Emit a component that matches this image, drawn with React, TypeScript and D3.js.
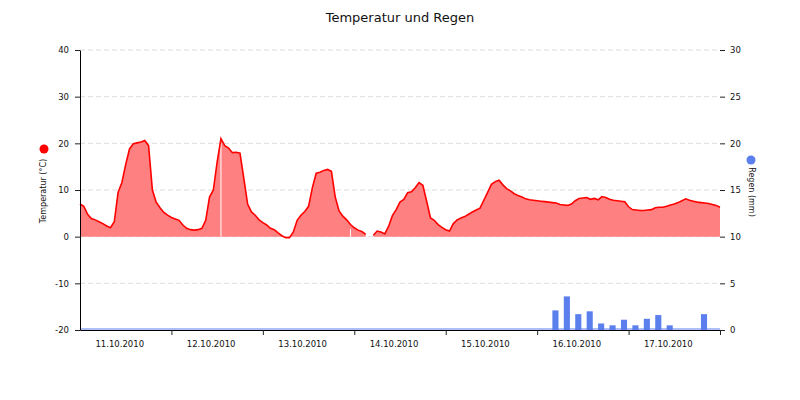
import * as d3 from "d3";
import { useEffect, useMemo, useRef } from "react";

const WIDTH = 800;
const HEIGHT = 400;
const MARGIN = { top: 50, right: 80, bottom: 70, left: 80 };
const FONT = "DejaVu Sans, sans-serif";

const title = "Temperatur und Regen";
const tempLabel = "Temperatur (°C)";
const rainLabel = "Regen (mm)";

// Zeitraum der x-Achse
const startDay = new Date(2010, 9, 11);
const endDay = new Date(2010, 9, 18);

// Temperatur, stündlich ab 11.10.2010 00:00 (null = fehlender Messwert)
const tempStart = new Date(2010, 9, 11, 0);
const temps: (number | null)[] = [
  // 11.10.
  7.0, 6.5, 4.8, 3.9, 3.6, 3.2, 2.8, 2.3, 1.9, 3.2, 9.5, 11.6,
  15.5, 18.8, 19.9, 20.1, 20.3, 20.6, 19.5, 10.0, 7.4, 6.2, 5.2, 4.6,
  // 12.10.
  4.1, 3.8, 3.5, 2.5, 1.8, 1.5, 1.4, 1.5, 1.8, 3.5, 8.5, 10.0,
  16.0, 21.0, 19.5, 19.0, 18.0, 18.1, 17.9, 12.5, 7.0, 5.3, 4.6, 3.6,
  // 13.10.
  3.0, 2.5, 1.8, 1.5, 0.8, 0.2, -0.2, -0.2, 1.0, 3.5, 4.6, 5.4,
  6.5, 10.5, 13.6, 13.8, 14.2, 14.4, 14.0, 8.5, 5.5, 4.4, 3.6, 2.6,
  // 14.10.
  1.9, 1.4, 1.1, 0.5, null, 0.3, 1.2, 1.0, 0.6, 2.2, 4.5, 5.8,
  7.4, 8.0, 9.4, 9.6, 10.5, 11.6, 11.0, 7.6, 4.0, 3.5, 2.6, 2.0,
  // 15.10.
  1.5, 1.2, 2.8, 3.6, 4.0, 4.3, 4.8, 5.3, 5.7, 6.1, 7.8, 9.5,
  11.2, 11.8, 12.1, 11.1, 10.3, 9.8, 9.2, 8.8, 8.5, 8.1, 7.9, 7.8,
  // 16.10.
  7.7, 7.6, 7.5, 7.4, 7.3, 7.2, 6.9, 6.8, 6.7, 7.0, 7.7, 8.2,
  8.3, 8.4, 8.0, 8.2, 7.9, 8.6, 8.4, 8.0, 7.8, 7.7, 7.6, 7.5,
  // 17.10.
  6.4, 5.8, 5.7, 5.6, 5.6, 5.7, 5.8, 6.2, 6.3, 6.3, 6.5, 6.8,
  7.0, 7.3, 7.7, 8.1, 7.8, 7.6, 7.4, 7.3, 7.2, 7.1, 6.9, 6.7,
  // 18.10. 00:00
  6.3,
];

// Stellen, an denen die Fläche eine feine weiße Fuge hat
const fillSeams = [new Date(2010, 9, 12, 13), new Date(2010, 9, 13, 23)];

// Regen (mm)
const rainTimes = [
  new Date(2010, 9, 16, 4), new Date(2010, 9, 16, 7), new Date(2010, 9, 16, 10),
  new Date(2010, 9, 16, 13), new Date(2010, 9, 16, 16), new Date(2010, 9, 16, 19),
  new Date(2010, 9, 16, 22), new Date(2010, 9, 17, 1), new Date(2010, 9, 17, 4),
  new Date(2010, 9, 17, 7), new Date(2010, 9, 17, 10), new Date(2010, 9, 17, 19),
];
const rainValues = [2.1, 3.6, 1.7, 2.0, 0.7, 0.5, 1.1, 0.5, 1.2, 1.6, 0.5, 1.7];

const tempTicks = [-20, -10, 0, 10, 20, 30, 40];
const rainTicks = [0, 5, 10, 15, 20, 25, 30];

type TempPoint = { t: Date; v: number | null };
type RainPoint = { t: Date; v: number };

const RED = "#ff0000";
const BLUE = "#5b7fec";

export const TempRainChart = () => {
  const boundsWidth = WIDTH - MARGIN.left - MARGIN.right;
  const boundsHeight = HEIGHT - MARGIN.top - MARGIN.bottom;

  const tempData: TempPoint[] = useMemo(
    () => temps.map((v, i) => ({ t: d3.timeHour.offset(tempStart, i), v })),
    []
  );
  const rainData: RainPoint[] = useMemo(
    () => rainTimes.map((t, i) => ({ t, v: rainValues[i] })),
    []
  );

  const xScale = useMemo(
    () => d3.scaleTime().domain([startDay, endDay]).range([0, boundsWidth]),
    [boundsWidth]
  );
  const yTemp = useMemo(
    () => d3.scaleLinear().domain([-20, 40]).range([boundsHeight, 0]),
    [boundsHeight]
  );
  const yRain = useMemo(
    () => d3.scaleLinear().domain([0, 30]).range([boundsHeight, 0]),
    [boundsHeight]
  );

  const area = d3
    .area<TempPoint>()
    .defined((d) => d.v !== null)
    .x((d) => xScale(d.t))
    .y0(yTemp(0))
    .y1((d) => yTemp(d.v as number));
  const line = d3
    .line<TempPoint>()
    .defined((d) => d.v !== null)
    .x((d) => xScale(d.t))
    .y((d) => yTemp(d.v as number));

  const days = d3.timeDay.range(startDay, endDay);
  const dayFormat = d3.timeFormat("%d.%m.%Y");

  const axesRef = useRef<SVGGElement>(null);
  useEffect(() => {
    const g = d3.select(axesRef.current);
    g.selectAll("*").remove();

    // linke Achse
    const left = g
      .append("g")
      .call(
        d3
          .axisLeft(yTemp)
          .tickValues(tempTicks)
          .tickFormat((d) => String(d))
          .tickSize(5)
          .tickSizeOuter(0)
          .tickPadding(6)
      );
    // rechte Achse (ohne Linie)
    const right = g
      .append("g")
      .attr("transform", `translate(${boundsWidth},0)`)
      .call(
        d3
          .axisRight(yRain)
          .tickValues(rainTicks)
          .tickFormat((d) => String(d))
          .tickSize(5)
          .tickSizeOuter(0)
          .tickPadding(5)
      );
    right.select(".domain").remove();
    // untere Achse: Striche an Tagesgrenzen
    const bottom = g
      .append("g")
      .attr("transform", `translate(0,${boundsHeight})`)
      .call(
        d3
          .axisBottom(xScale)
          .tickValues(d3.timeDay.range(d3.timeDay.offset(startDay, 1), d3.timeDay.offset(endDay, 1)))
          .tickFormat(() => "")
          .tickSize(5)
          .tickSizeOuter(0)
      );

    [left, right, bottom].forEach((a) => {
      a.attr("font-family", FONT).attr("font-size", 8.5);
      a.selectAll("text").attr("fill", "#111");
      a.selectAll(".tick line").attr("stroke", "#222");
    });
    left.select(".domain").attr("stroke", "#000");
    bottom.select(".domain").attr("stroke", "#000");
  }, [xScale, yTemp, yRain, boundsWidth, boundsHeight]);

  return (
    <svg
      width={WIDTH}
      height={HEIGHT}
      style={{ position: "absolute", left: 0, top: 0, background: "#fff" }}
    >
      <text
        x={WIDTH / 2}
        y={22}
        textAnchor="middle"
        fontFamily={FONT}
        fontSize={13}
        fill="#111"
      >
        {title}
      </text>
      <g transform={`translate(${MARGIN.left},${MARGIN.top})`}>
        {/* Gitterlinien */}
        {tempTicks
          .filter((t) => t !== -20)
          .map((t) => (
            <line
              key={t}
              x1={0}
              x2={boundsWidth}
              y1={yTemp(t)}
              y2={yTemp(t)}
              stroke="#dddddd"
              strokeDasharray="5,3"
            />
          ))}
        {/* Temperaturfläche */}
        <path d={area(tempData) || ""} fill="#ff8080" stroke="none" />
        {fillSeams.map((s, i) => {
          const p = tempData.find((d) => +d.t === +s);
          return (
            <line
              key={i}
              x1={xScale(s)}
              x2={xScale(s)}
              y1={yTemp(0)}
              y2={yTemp(p && p.v !== null ? p.v - 1 : 0)}
              stroke="#fff"
              strokeWidth={1}
            />
          );
        })}
        <path d={line(tempData) || ""} fill="none" stroke={RED} strokeWidth={1.6} />
        {/* Regenbalken */}
        {rainData.map((d, i) => (
          <rect
            key={i}
            x={xScale(d.t)}
            width={xScale(d3.timeMinute.offset(d.t, 96)) - xScale(d.t)}
            y={yRain(d.v)}
            height={yRain(0) - yRain(d.v)}
            fill={BLUE}
          />
        ))}
        <line
          x1={0}
          x2={boundsWidth}
          y1={yRain(0) - 1}
          y2={yRain(0) - 1}
          stroke={BLUE}
          strokeWidth={1}
        />
        {/* Tagesbeschriftung */}
        {days.map((d) => (
          <text
            key={+d}
            x={xScale(d3.timeHour.offset(d, 12)) - 6}
            y={boundsHeight + 17}
            textAnchor="middle"
            fontFamily={FONT}
            fontSize={8.5}
            fill="#111"
          >
            {dayFormat(d)}
          </text>
        ))}
      </g>
      <g ref={axesRef} transform={`translate(${MARGIN.left},${MARGIN.top})`} />
      {/* Achsentitel mit Punkt */}
      <text
        transform={`translate(46,${MARGIN.top + boundsHeight / 2 + 1}) rotate(-90)`}
        textAnchor="middle"
        fontFamily={FONT}
        fontSize={8}
        fill="#111"
      >
        {tempLabel}
      </text>
      <circle cx={44} cy={149} r={4.5} fill={RED} />
      <text
        transform={`translate(749,${MARGIN.top + boundsHeight / 2 + 2}) rotate(90)`}
        textAnchor="middle"
        fontFamily={FONT}
        fontSize={8}
        fill="#111"
      >
        {rainLabel}
      </text>
      <circle cx={751} cy={160} r={4.5} fill={BLUE} />
    </svg>
  );
};

export default function App() {
  return (
    <div>
      <TempRainChart />
    </div>
  );
}
